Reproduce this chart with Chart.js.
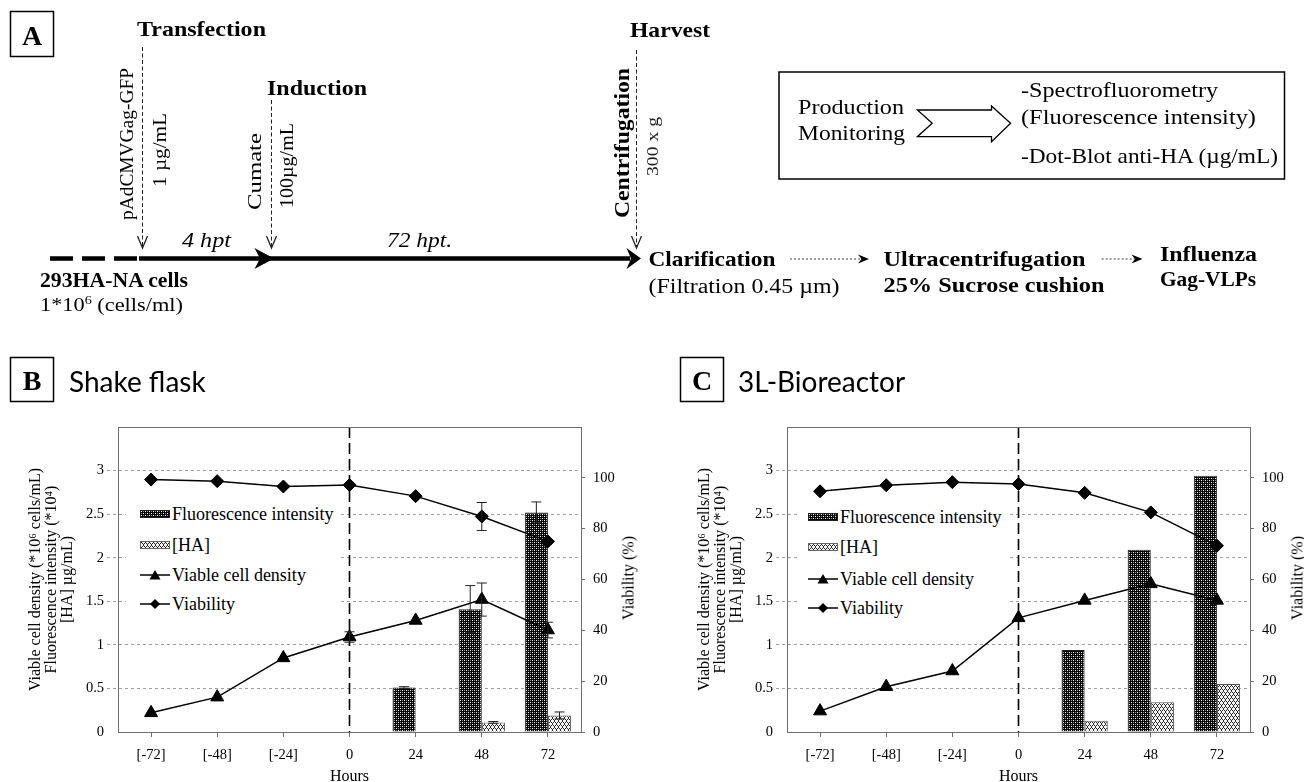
<!DOCTYPE html>
<html>
<head>
<meta charset="utf-8">
<script src="https://cdn.jsdelivr.net/npm/chart.js@4.4.1/dist/chart.umd.min.js"></script>
<style>
  html, body { margin:0; padding:0; background:#fff; }
  body { width:1304px; height:782px; overflow:hidden; position:relative; }
  canvas.chart { position:absolute; top:400px; }
  #art { position:absolute; left:0; top:0; pointer-events:none; }
  .lg-box { position:absolute; background:#fff; }
  .lg-text { position:absolute; height:22px; line-height:22px; font-family:'Liberation Serif','Times New Roman',serif; font-size:18px; color:#000; white-space:nowrap; }
  .sw-bar { position:absolute; width:30px; height:8px; border:1px solid #222; box-sizing:border-box; }
  .sw-line { position:absolute; }
</style>
</head>
<body>
<canvas id="chartB" class="chart" width="653" height="390" style="left:0px"></canvas>
<canvas id="chartC" class="chart" width="653" height="390" style="left:669px"></canvas>
<div id="legends"></div>
<svg id="art" width="1304" height="782" xmlns="http://www.w3.org/2000/svg">
 <g font-family="'Liberation Serif','Times New Roman',serif" fill="#000">
  <!-- Panel A -->
  <rect x="10.5" y="11.5" width="43" height="45" fill="none" stroke="#000" stroke-width="1.5"/>
  <text x="32" y="45" font-size="28" font-weight="bold" text-anchor="middle">A</text>
  <text x="137" y="36" font-size="22" font-weight="bold" textLength="129" lengthAdjust="spacingAndGlyphs">Transfection</text>
  <text x="630" y="37" font-size="22" font-weight="bold" textLength="80" lengthAdjust="spacingAndGlyphs">Harvest</text>
  <text x="267" y="95" font-size="22" font-weight="bold" textLength="100" lengthAdjust="spacingAndGlyphs">Induction</text>

  <text transform="translate(132.5,220) rotate(-90)" font-size="19" textLength="152" lengthAdjust="spacingAndGlyphs">pAdCMVGag-GFP</text>
  <text transform="translate(165.5,187) rotate(-90)" font-size="19" textLength="74" lengthAdjust="spacingAndGlyphs">1 µg/mL</text>
  <text transform="translate(261,210) rotate(-90)" font-size="19" textLength="77" lengthAdjust="spacingAndGlyphs">Cumate</text>
  <text transform="translate(292.5,208) rotate(-90)" font-size="19" textLength="85" lengthAdjust="spacingAndGlyphs">100µg/mL</text>
  <text transform="translate(629,218) rotate(-90)" font-size="20" font-weight="bold" textLength="150" lengthAdjust="spacingAndGlyphs">Centrifugation</text>
  <text transform="translate(658,176) rotate(-90)" font-size="17" fill="#222" textLength="59" lengthAdjust="spacingAndGlyphs">300 x g</text>

  <g stroke="#222" stroke-width="1" stroke-dasharray="4,2.5" fill="none">
   <line x1="142.5" y1="47" x2="142.5" y2="246"/>
   <line x1="271.5" y1="100" x2="271.5" y2="246"/>
   <line x1="636.5" y1="50" x2="636.5" y2="246"/>
  </g>
  <g stroke="#222" stroke-width="1.3" fill="none">
   <polyline points="137.5,236 142.5,248 147.5,236"/>
   <polyline points="266.5,236 271.5,248 276.5,236"/>
   <polyline points="631.5,236 636.5,248 641.5,236"/>
  </g>

  <line x1="50" y1="258.5" x2="139" y2="258.5" stroke="#000" stroke-width="4.5" stroke-dasharray="23,9"/>
  <line x1="139" y1="258.5" x2="630" y2="258.5" stroke="#000" stroke-width="4.5"/>
  <polygon points="274,258.5 254.5,248 260,258.5 254.5,269" fill="#000"/>
  <polygon points="641,258.5 626.5,248 631,258.5 626.5,269" fill="#000"/>

  <text x="182" y="246.5" font-size="21" font-style="italic" textLength="49" lengthAdjust="spacingAndGlyphs">4 hpt</text>
  <text x="387" y="246.5" font-size="21" font-style="italic" textLength="65" lengthAdjust="spacingAndGlyphs">72 hpt.</text>
  <text x="40" y="286.5" font-size="20" font-weight="bold" textLength="148" lengthAdjust="spacingAndGlyphs">293HA-NA cells</text>
  <text x="40" y="311" font-size="19" textLength="143" lengthAdjust="spacingAndGlyphs">1*10<tspan dy="-7" font-size="12">6</tspan><tspan dy="7"> (cells/ml)</tspan></text>

  <rect x="779" y="72" width="505.5" height="107" fill="none" stroke="#000" stroke-width="1.5"/>
  <text x="798" y="113.5" font-size="21" textLength="106" lengthAdjust="spacingAndGlyphs">Production</text>
  <text x="798" y="139.5" font-size="21" textLength="107" lengthAdjust="spacingAndGlyphs">Monitoring</text>
  <polygon points="917.4,110 991.5,110 991.5,106 1010.6,123.3 991.5,141.7 991.5,136.7 917.4,136.7 932.2,123.3" fill="#fff" stroke="#000" stroke-width="1.3"/>
  <text x="1021" y="96.5" font-size="21" textLength="197" lengthAdjust="spacingAndGlyphs">-Spectrofluorometry</text>
  <text x="1021" y="124" font-size="21" textLength="235" lengthAdjust="spacingAndGlyphs">(Fluorescence intensity)</text>
  <text x="1021" y="163" font-size="21" textLength="257" lengthAdjust="spacingAndGlyphs">-Dot-Blot anti-HA (µg/mL)</text>

  <text x="648.5" y="266" font-size="21" font-weight="bold" textLength="127" lengthAdjust="spacingAndGlyphs">Clarification</text>
  <text x="648.5" y="293" font-size="20" textLength="191" lengthAdjust="spacingAndGlyphs">(Filtration 0.45 µm)</text>
  <line x1="790" y1="259" x2="862" y2="259" stroke="#444" stroke-width="1" stroke-dasharray="2,2"/>
  <polygon points="869,259 858,254.5 861.5,259 858,263.5" fill="#000"/>
  <text x="883.5" y="266" font-size="21" font-weight="bold" textLength="202" lengthAdjust="spacingAndGlyphs">Ultracentrifugation</text>
  <text x="883.5" y="292" font-size="21" font-weight="bold" textLength="221" lengthAdjust="spacingAndGlyphs">25% Sucrose cushion</text>
  <line x1="1101.7" y1="259" x2="1136" y2="259" stroke="#444" stroke-width="1" stroke-dasharray="2,2"/>
  <polygon points="1142.5,259 1131.5,254.5 1135,259 1131.5,263.5" fill="#000"/>
  <text x="1160" y="261" font-size="21" font-weight="bold" textLength="97" lengthAdjust="spacingAndGlyphs">Influenza</text>
  <text x="1160" y="286" font-size="21" font-weight="bold" textLength="96" lengthAdjust="spacingAndGlyphs">Gag-VLPs</text>

  <!-- Panel headers -->
  <rect x="10.5" y="357.5" width="43" height="44" fill="none" stroke="#000" stroke-width="1.5"/>
  <text x="32" y="390" font-size="28" font-weight="bold" text-anchor="middle">B</text>
  <text x="69" y="392" font-family="Lato, 'Open Sans', sans-serif" font-size="28">Shake flask</text>
  <rect x="680.5" y="357.5" width="43" height="44" fill="none" stroke="#000" stroke-width="1.5"/>
  <text x="702" y="390" font-size="28" font-weight="bold" text-anchor="middle">C</text>
  <text x="738" y="392" font-family="Lato, 'Open Sans', sans-serif" font-size="28">3L-Bioreactor</text>

  <!-- right axis titles -->
  <text transform="translate(633.5,578) rotate(-90)" font-size="16" text-anchor="middle">Viability (%)</text>
  <text transform="translate(1302.5,578) rotate(-90)" font-size="16" text-anchor="middle">Viability (%)</text>
 </g>
</svg>
<script>
// ---------------- DATA ----------------
const categories = ['[-72]', '[-48]', '[-24]', '0', '24', '48', '72'];
const inductionLabel = '0';
const leftAxisMax = 3.5, leftAxisStep = 0.5;
const rightAxisMax = 120, rightAxisStep = 20;

// B: Shake flask
const flaskFluorescence    = [null, null, null, null, 0.51, 1.41, 2.52];
const flaskFluorescenceErr = [null, null, null, null, 0.01, 0.27, 0.12];
const flaskHA              = [null, null, null, null, 0.01, 0.11, 0.19];
const flaskHAErr           = [null, null, null, null, null, 0.01, 0.04];
const flaskVCD             = [0.22, 0.40, 0.85, 1.09, 1.28, 1.52, 1.17];
const flaskVCDErr          = [null, null, null, 0.06, null, 0.19, 0.09];
const flaskViability       = [99.3, 98.7, 96.6, 97.2, 92.8, 84.8, 75.0];
const flaskViabilityErr    = [null, null, null, null, null, 5.5, null];

// C: 3L-Bioreactor
const bioFluorescence = [null, null, null, null, 0.94, 2.09, 2.94];
const bioHA           = [null, null, null, null, 0.13, 0.34, 0.55];
const bioVCD          = [0.24, 0.52, 0.70, 1.31, 1.51, 1.70, 1.51];
const bioViability    = [94.7, 97.1, 98.3, 97.6, 94.1, 86.4, 73.3];

const seriesNames = ['Fluorescence intensity', '[HA]', 'Viable cell density', 'Viability'];

// ---------------- STYLE ----------------
const FONT = "'Liberation Serif', 'Times New Roman', serif";
const axisColor = '#6e6e6e';
const gridColor = '#a0a0a0';
Chart.defaults.font.family = FONT;
Chart.defaults.color = '#000';

function makeFluorCanvas() {
  const c = document.createElement('canvas'); c.width = 4; c.height = 4;
  const g = c.getContext('2d');
  g.fillStyle = '#000'; g.fillRect(0, 0, 4, 4);
  g.fillStyle = '#ffffff';
  [[0,0],[2,2]].forEach(p => g.fillRect(p[0], p[1], 1, 1));
  g.fillStyle = '#8a8a8a';
  [[2,0],[0,2]].forEach(p => g.fillRect(p[0], p[1], 1, 1));
  return c;
}
function makeHACanvas() {
  const c = document.createElement('canvas'); c.width = 8; c.height = 6;
  const g = c.getContext('2d');
  g.fillStyle = '#f4f4f4'; g.fillRect(0, 0, 8, 6);
  g.fillStyle = '#262626';
  const z = [0,1,2,1,0,1,2,1];
  for (let x = 0; x < 8; x++) {
    g.fillRect(x, z[x], 1, 1);
    g.fillRect((x + 2) % 8, z[x] + 3, 1, 1);
  }
  return c;
}
const fluorCanvas = makeFluorCanvas();
const haCanvas = makeHACanvas();

const frameLinePlugin = {
  id: 'frameLine',
  beforeDatasetsDraw(chart) {
    const { ctx, chartArea } = chart;
    const x = chart.scales.x.getPixelForValue(categories.indexOf(inductionLabel));
    ctx.save();
    ctx.strokeStyle = '#000'; ctx.lineWidth = 1.6; ctx.setLineDash([11, 5]);
    ctx.beginPath(); ctx.moveTo(x, chartArea.top); ctx.lineTo(x, chartArea.bottom); ctx.stroke();
    ctx.restore();
  },
  afterDraw(chart) {
    const { ctx, chartArea } = chart;
    ctx.save();
    ctx.strokeStyle = axisColor; ctx.lineWidth = 1;
    ctx.beginPath(); ctx.moveTo(chartArea.left, Math.round(chartArea.top) + 0.5);
    ctx.lineTo(chartArea.right, Math.round(chartArea.top) + 0.5); ctx.stroke();
    ctx.restore();
  }
};

const errorBarPlugin = {
  id: 'errorBars',
  afterDatasetsDraw(chart) {
    const ctx = chart.ctx;
    chart.data.datasets.forEach((ds, di) => {
      if (!ds.errors) return;
      const meta = chart.getDatasetMeta(di);
      const scale = chart.scales[ds.yAxisID];
      meta.data.forEach((el, i) => {
        const e = ds.errors[i], v = ds.data[i];
        if (e == null || v == null) return;
        const x = el.x;
        const yT = scale.getPixelForValue(v + e), yB = scale.getPixelForValue(v - e);
        ctx.save(); ctx.strokeStyle = '#222'; ctx.lineWidth = 1;
        ctx.beginPath();
        ctx.moveTo(x, yT); ctx.lineTo(x, yB);
        ctx.moveTo(x - 5, yT); ctx.lineTo(x + 5, yT);
        ctx.moveTo(x - 5, yB); ctx.lineTo(x + 5, yB);
        ctx.stroke(); ctx.restore();
      });
    });
  }
};

function makeChart(id, fl, flErr, ha, haErr, vcd, vcdErr, via, viaErr) {
  const ctx = document.getElementById(id).getContext('2d');
  const fluorPattern = ctx.createPattern(fluorCanvas, 'repeat');
  const haPattern = ctx.createPattern(haCanvas, 'repeat');
  const tickFont = { family: FONT, size: 14.5 };
  return new Chart(ctx, {
    type: 'bar',
    data: {
      labels: categories,
      datasets: [
        { type: 'bar', label: seriesNames[0], data: fl, errors: flErr, yAxisID: 'y',
          backgroundColor: fluorPattern, borderColor: '#222', borderWidth: 1,
          categoryPercentage: 0.7, barPercentage: 1, order: 2 },
        { type: 'bar', label: seriesNames[1], data: ha, errors: haErr, yAxisID: 'y',
          backgroundColor: haPattern, borderColor: '#555', borderWidth: 1,
          categoryPercentage: 0.7, barPercentage: 1, order: 2 },
        { type: 'line', label: seriesNames[2], data: vcd, errors: vcdErr, yAxisID: 'y',
          borderColor: '#000', borderWidth: 1.5, tension: 0, fill: false,
          pointStyle: 'triangle', pointRadius: 7.5, pointBackgroundColor: '#000',
          pointBorderColor: '#000', pointBorderWidth: 1, order: 1 },
        { type: 'line', label: seriesNames[3], data: via, errors: viaErr, yAxisID: 'y2',
          borderColor: '#000', borderWidth: 1.5, tension: 0, fill: false,
          pointStyle: 'rectRot', pointRadius: 6.5, pointBackgroundColor: '#000',
          pointBorderColor: '#000', pointBorderWidth: 1, order: 0 }
      ]
    },
    options: {
      responsive: false,
      animation: false,
      layout: { padding: { top: 27, left: 0, right: 0, bottom: 0 } },
      plugins: { legend: { display: false }, tooltip: { enabled: false } },
      scales: {
        x: {
          type: 'category', offset: true,
          grid: { display: true, drawOnChartArea: false, drawTicks: true, tickLength: 5,
                  color: axisColor, tickColor: axisColor, offset: false },
          border: { color: axisColor, width: 1 },
          ticks: { color: '#000', font: tickFont, padding: 9, maxRotation: 0 },
          title: { display: true, text: 'Hours', color: '#000', font: { family: FONT, size: 16 },
                   padding: { top: 0, bottom: 4 } },
          afterFit(s) { s.height = 58; }
        },
        y: {
          position: 'left', min: 0, max: leftAxisMax,
          ticks: { stepSize: leftAxisStep, color: '#000', font: tickFont, padding: 3,
                   callback: (v) => (v >= leftAxisMax ? '' : String(v)) },
          grid: {
            color: (c) => (c.tick && (c.tick.value === 0 || c.tick.value >= leftAxisMax)) ? 'rgba(0,0,0,0)' : gridColor,
            tickColor: (c) => (c.tick && (c.tick.value === 0 || c.tick.value >= leftAxisMax)) ? 'rgba(0,0,0,0)' : gridColor,
            tickLength: 11, tickBorderDash: [3, 3], lineWidth: 1
          },
          border: { color: axisColor, width: 1, dash: [3, 3] },
          title: { display: true,
                   text: ['Viable cell density (*10⁶ cells/mL)', 'Fluorescence intensity (*10⁴)', '[HA] µg/mL)'],
                   color: '#000', font: { family: FONT, size: 16, lineHeight: '16px' },
                   padding: { top: 28, bottom: 0 } },
          afterFit(s) { s.width = 118; }
        },
        y2: {
          position: 'right', min: 0, max: rightAxisMax,
          ticks: { stepSize: rightAxisStep, color: '#000', font: tickFont, padding: 8,
                   callback: (v) => (v >= rightAxisMax ? '' : String(v)) },
          grid: { drawOnChartArea: false, tickLength: 4,
                  tickColor: (c) => (c.tick && c.tick.value >= rightAxisMax) ? 'rgba(0,0,0,0)' : axisColor },
          border: { color: axisColor, width: 1 },
          afterFit(s) { s.width = 72; }
        }
      }
    },
    plugins: [frameLinePlugin, errorBarPlugin]
  });
}

makeChart('chartB', flaskFluorescence, flaskFluorescenceErr, flaskHA, flaskHAErr,
          flaskVCD, flaskVCDErr, flaskViability, flaskViabilityErr);
makeChart('chartC', bioFluorescence, null, bioHA, null, bioVCD, null, bioViability, null);

// ---------------- LEGENDS (inside plot area) ----------------
function addLegend(box, swX, textX, rowsY) {
  const host = document.getElementById('legends');
  const b = document.createElement('div');
  b.className = 'lg-box';
  Object.assign(b.style, { left: box[0] + 'px', top: box[1] + 'px', width: box[2] + 'px', height: box[3] + 'px' });
  host.appendChild(b);
  const fluorURL = fluorCanvas.toDataURL();
  const haURL = haCanvas.toDataURL();
  rowsY.forEach((cy, i) => {
    if (i < 2) {
      const s = document.createElement('div');
      s.className = 'sw-bar';
      s.style.left = swX + 'px'; s.style.top = (cy - 4) + 'px';
      s.style.backgroundImage = 'url(' + (i === 0 ? fluorURL : haURL) + ')';
      if (i === 1) s.style.borderColor = '#666';
      host.appendChild(s);
    } else {
      const ns = 'http://www.w3.org/2000/svg';
      const sv = document.createElementNS(ns, 'svg');
      sv.setAttribute('width', '30'); sv.setAttribute('height', '16');
      sv.setAttribute('class', 'sw-line');
      sv.style.left = swX + 'px'; sv.style.top = (cy - 8) + 'px';
      const ln = document.createElementNS(ns, 'line');
      ln.setAttribute('x1', '0'); ln.setAttribute('y1', '8'); ln.setAttribute('x2', '30'); ln.setAttribute('y2', '8');
      ln.setAttribute('stroke', '#000'); ln.setAttribute('stroke-width', '1.5');
      sv.appendChild(ln);
      const mk = document.createElementNS(ns, 'polygon');
      mk.setAttribute('points', i === 2 ? '15,3 20.5,12.5 9.5,12.5' : '15,3 20,8 15,13 10,8');
      mk.setAttribute('fill', '#000');
      sv.appendChild(mk);
      host.appendChild(sv);
    }
    const t = document.createElement('div');
    t.className = 'lg-text';
    t.style.left = textX + 'px'; t.style.top = (cy - 11) + 'px';
    t.textContent = seriesNames[i];
    host.appendChild(t);
  });
}
addLegend([126, 498, 214, 120], 140, 172, [514, 545, 575, 604]);
addLegend([797, 500, 213, 122], 808, 840, [517, 547, 579, 608]);
</script>
</body>
</html>
